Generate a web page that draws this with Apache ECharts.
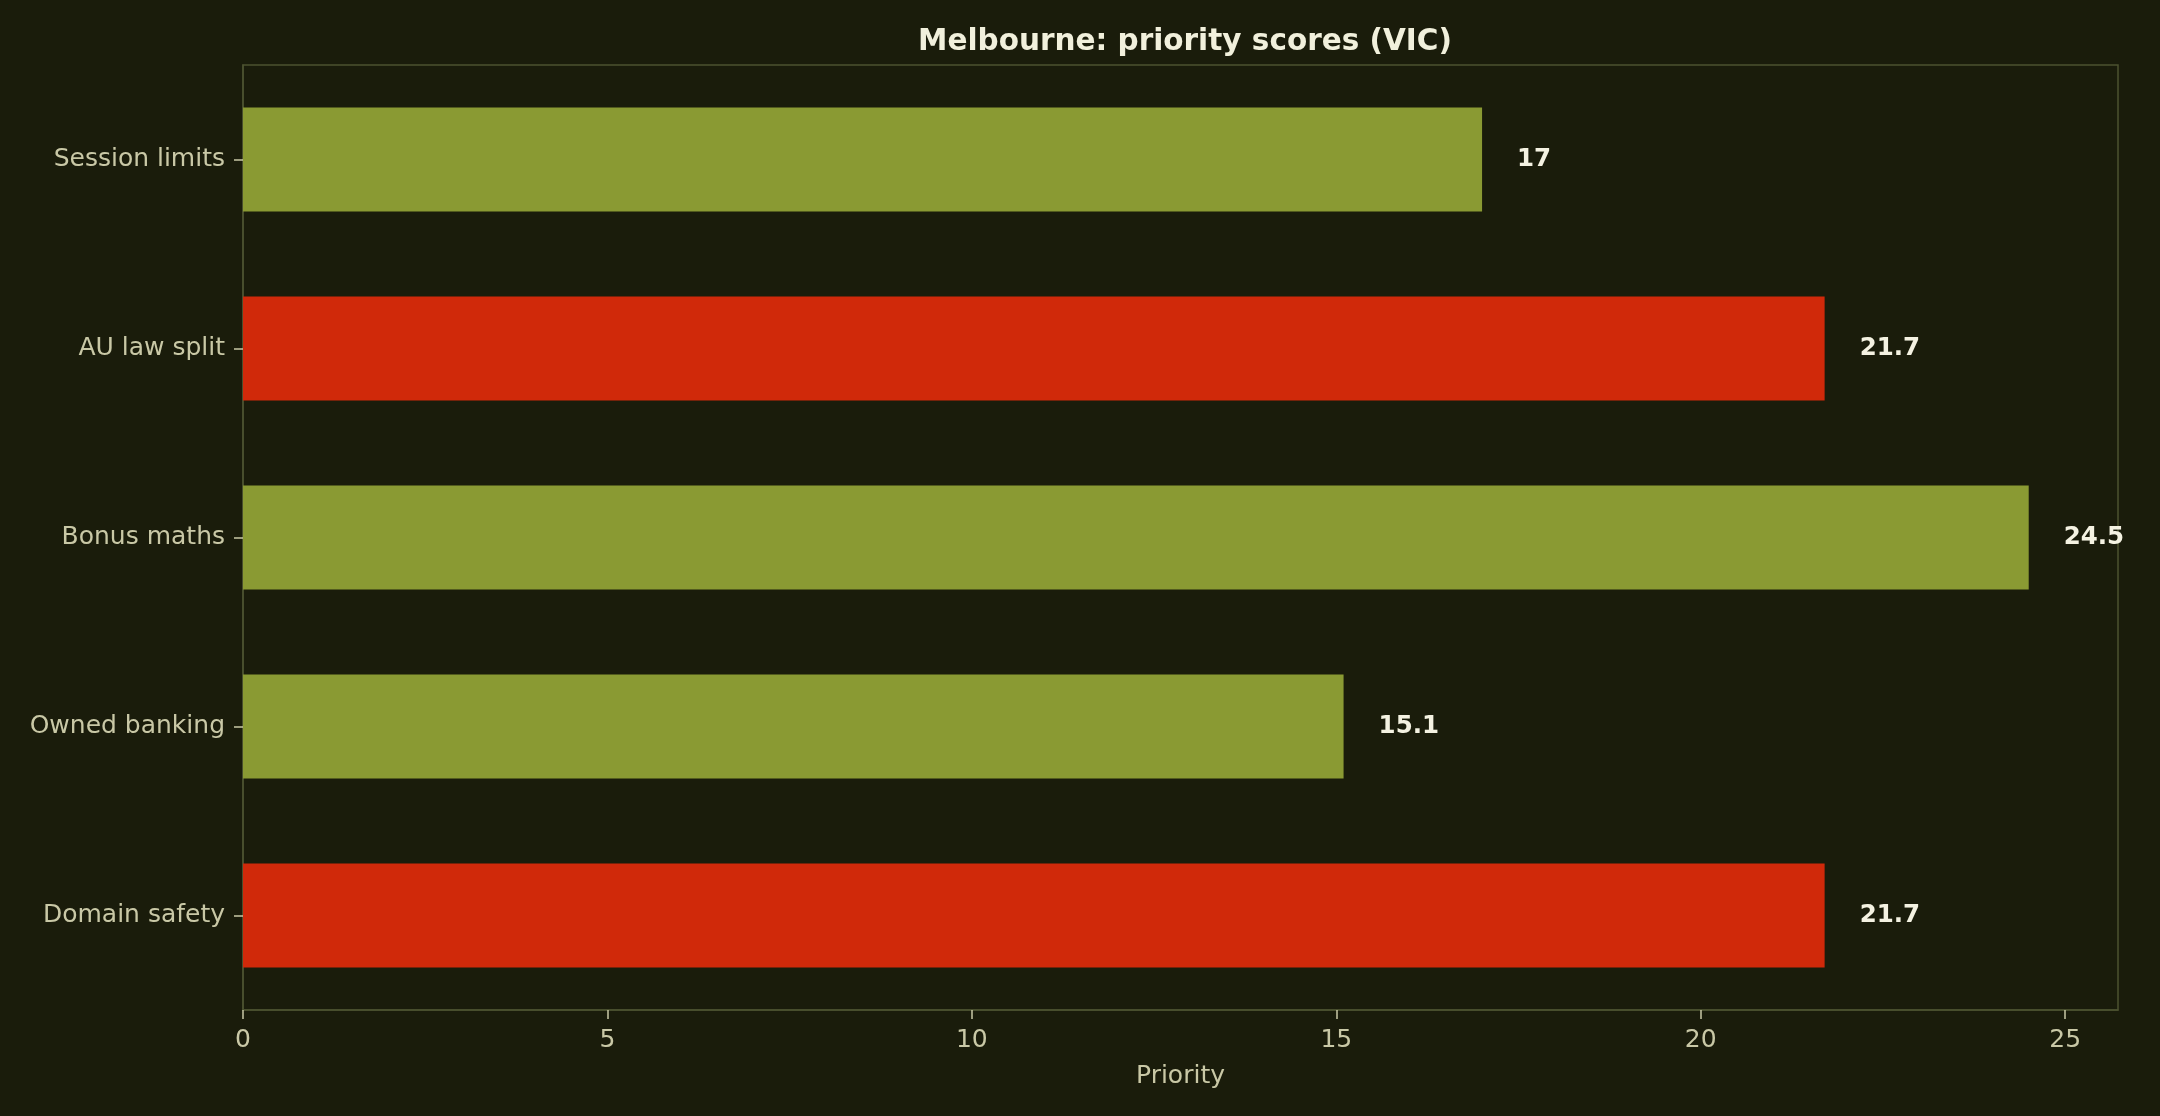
<!DOCTYPE html>
<html>
<head>
<meta charset="utf-8">
<script src="https://cdn.jsdelivr.net/npm/echarts@6/dist/echarts.min.js"></script>
<style>
  html, body { margin: 0; padding: 0; background: #1a1c0b; }
  #demo { width: 2160px; height: 1116px; }
</style>
</head>
<body>
<div id="demo"></div>
<script>
// categories listed bottom -> top (category axis starts at the bottom)
var categories = ['Domain safety', 'Owned banking', 'Bonus maths', 'AU law split', 'Session limits'];
var scores = [21.7, 15.1, 24.5, 21.7, 17];
var highlighted = ['Domain safety', 'AU law split'];
var xTicks = [0, 5, 10, 15, 20, 25];

var labelColor = '#c9c8a6';
var frameColor = '#4c5230';

var option = {
    backgroundColor: '#1a1c0b',
    animation: false,
    title: {
        text: 'Melbourne: priority scores (VIC)',
        left: 1180,
        textAlign: 'center',
        top: 22,
        textStyle: { color: '#f1f0dc', fontFamily: 'DejaVu Sans', fontWeight: 'bold', fontSize: 29.5 }
    },
    grid: {
        left: 243, right: 42, top: 65, bottom: 106,
        show: true, borderColor: frameColor, borderWidth: 1.5, backgroundColor: 'transparent'
    },
    xAxis: {
        type: 'value',
        min: 0,
        max: 25.725,
        interval: 5,
        name: 'Priority',
        nameLocation: 'middle',
        nameGap: 54,
        nameTextStyle: { color: labelColor, fontFamily: 'DejaVu Sans', fontSize: 25 },
        splitLine: { show: false },
        axisLine: { show: true, lineStyle: { color: frameColor, width: 1.5 } },
        axisTick: { show: true, customValues: xTicks, length: 9, lineStyle: { color: labelColor, width: 1.5 } },
        axisLabel: { customValues: xTicks, color: labelColor, fontFamily: 'DejaVu Sans', fontSize: 25, margin: 18 }
    },
    yAxis: {
        type: 'category',
        data: categories,
        axisLine: { show: true, lineStyle: { color: frameColor, width: 1.5 } },
        axisTick: { show: true, alignWithLabel: true, length: 9, lineStyle: { color: labelColor, width: 1.5 } },
        axisLabel: { color: labelColor, fontFamily: 'DejaVu Sans', fontSize: 25, margin: 18, padding: [5, 0, 0, 0] },
        splitLine: { show: false }
    },
    series: [
        {
            name: 'Priority',
            type: 'bar',
            data: scores,
            barWidth: '55%',
            itemStyle: {
                color: function (p) {
                    return highlighted.indexOf(categories[p.dataIndex]) >= 0 ? '#d0290a' : '#8a9a33';
                }
            },
            label: {
                show: true,
                position: 'right',
                distance: 35,
                padding: [2, 0, 0, 0],
                color: '#f4f2e2',
                fontFamily: 'DejaVu Sans',
                fontWeight: 'bold',
                fontSize: 24.5
            }
        }
    ]
};

var myChart = echarts.init(document.getElementById('demo'));
myChart.setOption(option);
</script>
</body>
</html>
